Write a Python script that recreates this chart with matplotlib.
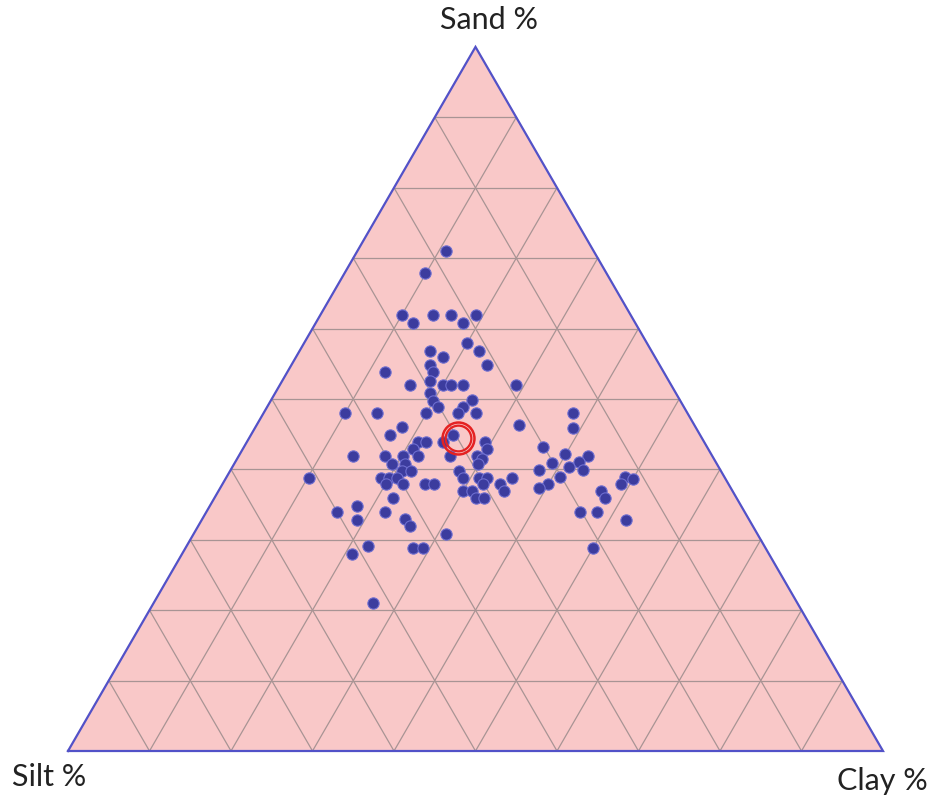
import numpy as np
import matplotlib
matplotlib.use("Agg")
import matplotlib.pyplot as plt

# ---- data (percent) ----
sand = [71.0, 67.9, 61.9, 60.8, 61.9, 61.9, 60.8, 61.9, 58.0, 56.8,
        56.8, 56.0, 54.8, 54.8, 53.8, 53.8, 52.6, 52.0, 52.0, 52.0,
        52.0, 52.0, 50.9, 49.7, 48.9, 49.9, 48.9, 48.0, 48.0, 48.0,
        48.0, 48.0, 46.3, 46.0, 44.9, 43.9, 43.9, 42.9, 44.9, 43.9,
        41.9, 43.9, 42.9, 41.9, 41.5, 40.8, 41.9, 41.9, 41.9, 41.9,
        40.8, 40.8, 39.8, 39.8, 39.8, 38.8, 38.8, 38.8, 38.8, 38.8,
        37.9, 37.9, 37.9, 37.9, 38.8, 38.8, 37.9, 37.9, 38.8, 36.9,
        36.9, 36.9, 35.9, 35.9, 35.9, 33.9, 34.8, 32.8, 33.9, 33.0,
        32.0, 30.8, 29.1, 28.0, 28.8, 28.8, 21.0, 48.0, 45.9, 43.2,
        42.2, 41.9, 40.9, 41.1, 40.3, 39.9, 39.9, 38.9, 37.9, 37.4,
        38.9, 38.6, 37.9, 36.9, 35.9, 33.9, 33.9, 32.8, 28.8]
clay = [10.9, 9.9, 10.0, 11.9, 13.8, 16.0, 18.1, 19.1, 20.0, 22.0,
        16.0, 18.0, 24.0, 17.0, 17.9, 12.0, 18.1, 16.0, 20.0, 21.0,
        22.5, 29.0, 19.0, 19.9, 21.0, 24.6, 24.0, 23.9, 26.1, 10.0,
        13.9, 19.9, 32.2, 18.0, 17.0, 21.0, 22.0, 20.9, 24.8, 24.1,
        25.9, 29.2, 30.0, 29.2, 30.0, 29.9, 14.0, 18.0, 20.2, 22.0,
        19.4, 20.9, 21.1, 22.2, 28.1, 29.1, 10.2, 19.0, 20.0, 21.0,
        20.1, 22.2, 24.9, 25.9, 31.0, 32.0, 32.0, 34.0, 35.1, 35.0,
        30.0, 31.1, 32.1, 33.1, 21.9, 16.0, 18.1, 19.1, 22.0, 24.8,
        26.0, 31.0, 22.2, 20.8, 27.9, 29.2, 26.9, 38.0, 39.0, 36.7,
        39.9, 42.8, 38.9, 42.2, 41.3, 43.2, 37.8, 40.9, 39.9, 39.1,
        48.9, 50.0, 48.9, 47.0, 48.0, 45.9, 48.0, 52.1, 50.0]
silt = [100.0 - s - c for s, c in zip(sand, clay)]

# highlighted (mean) sample
mark_sand = [44.4]
mark_clay = [25.6]

labels = ["Sand %", "Silt %", "Clay %"]

H = np.sqrt(3) / 2


def to_xy(sa, cl):
    sa = np.asarray(sa) / 100.0
    cl = np.asarray(cl) / 100.0
    return cl + sa / 2.0, sa * H


fig = plt.figure(figsize=(9.35, 8.03), dpi=100)
ax = fig.add_axes([0, 0, 1, 1])
ax.set_xlim(-68 / 815, (935 - 68) / 815)
ax.set_ylim(-51 / 813, (803 - 51) / 813)
ax.axis("off")

# triangle fill
tri_x = [0, 1, 0.5, 0]
tri_y = [0, 0, H, 0]
ax.fill(tri_x, tri_y, color="#F9C8C8", zorder=0)

# grid lines (10 % steps)
gcol = "#A89494"
for k in range(1, 10):
    f = k / 10
    # constant sand
    ax.plot([f / 2, 1 - f / 2], [f * H, f * H], color=gcol, lw=0.9, zorder=1)
    # constant clay
    ax.plot([f, f + (1 - f) / 2], [0, (1 - f) * H], color=gcol, lw=0.9, zorder=1)
    # constant silt
    ax.plot([1 - f, (1 - f) / 2], [0, (1 - f) * H], color=gcol, lw=0.9, zorder=1)

ax.plot(tri_x, tri_y, color="#5252C8", lw=1.6, zorder=2, solid_joinstyle="miter")

# samples
px, py = to_xy(sand, clay)
ax.scatter(px, py, s=66, color="#3C3C9E", edgecolors="#6E6ED0", linewidths=0.8, zorder=3)

# highlighted point
mx, my = to_xy(mark_sand, mark_clay)
ax.plot(mx, my, marker="o", ms=23, mfc="none", mec="#E42222", mew=1.8, zorder=4)
ax.plot(mx, my, marker="o", ms=18.5, mfc="none", mec="#E42222", mew=1.6, zorder=4)

fam = ["Lato", "DejaVu Sans"]
ax.text((489 - 68) / 815, H + 28 / 813, labels[0], ha="center", va="center", fontsize=22, family=fam, color="#222222")
ax.text((49 - 68) / 815, -25 / 813, labels[1], ha="center", va="center", fontsize=22, family=fam, color="#222222")
ax.text((882 - 68) / 815, -29 / 813, labels[2], ha="center", va="center", fontsize=22, family=fam, color="#222222")

fig.savefig("out.png", dpi=100, facecolor="white")
